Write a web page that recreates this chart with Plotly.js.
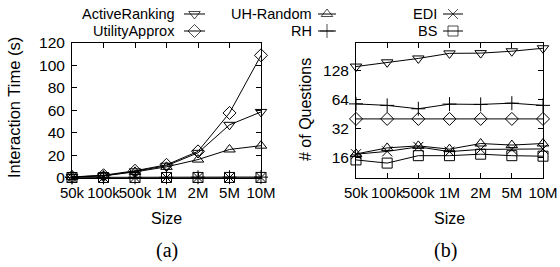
<!DOCTYPE html>
<html>
<head>
<meta charset="utf-8">
<script src="https://cdn.plot.ly/plotly-3.0.1.min.js"></script>
<style>html,body{margin:0;padding:0;background:#fff}#chart{width:560px;height:267px}</style>
</head>
<body>
<div id="chart"></div>
<script>
// ---- data ----
var sizes = ['50k', '100k', '500k', '1M', '2M', '5M', '10M'];

// (a) Interaction Time (s)
var timeActiveRanking = [0.5, 1.5, 5.5, 10.5, 22, 47, 58.5];
var timeUtilityApprox = [0.5, 2, 6, 11.3, 23.3, 57.6, 109];
var timeUHRandom      = [0.5, 1.5, 5, 9.5, 16, 25, 28.4];
var timeRH            = [0.05, 0.1, 0.15, 0.2, 0.25, 0.3, 0.35];
var timeEDI           = [0.01, 0.01, 0.02, 0.02, 0.03, 0.03, 0.04];
var timeBS            = [0.02, 0.02, 0.03, 0.04, 0.05, 0.06, 0.08];

// (b) # of Questions
var qActiveRanking = [140, 155, 170, 192, 193, 202, 217];
var qUtilityApprox = [40, 40, 40, 40, 40, 40, 40];
var qUHRandom      = [17.3, 20, 21, 19.4, 22.2, 21.4, 22.2];
var qRH            = [57.3, 55.3, 51, 57, 56.6, 58.3, 55.3];
var qEDI           = [17.2, 18.4, 20.5, 18.3, 19.3, 19.3, 19.5];
var qBS            = [15, 13.9, 16.6, 16.6, 17.2, 16.6, 16.4];

var seriesNames = ['ActiveRanking', 'UtilityApprox', 'UH-Random', 'RH', 'EDI', 'BS'];
var seriesSymbols = ['triangle-down-open', 'diamond-open', 'triangle-up-open', 'cross-thin-open', 'x-thin-open', 'square-open'];
var timeData = [timeActiveRanking, timeUtilityApprox, timeUHRandom, timeRH, timeEDI, timeBS];
var qData = [qActiveRanking, qUtilityApprox, qUHRandom, qRH, qEDI, qBS];

var FONT = 'Liberation Sans, Arial, sans-serif';
var FS = 15;
var W = 560, H = 267;

var traces = [];
function mk(name, sym, x, y, xa, ya) {
  return {
    type: 'scatter', mode: 'lines+markers', name: name, x: x, y: y,
    xaxis: xa, yaxis: ya, showlegend: false, cliponaxis: false,
    line: {color: '#000', width: 1},
    marker: {symbol: sym, size: 10, color: '#000', line: {color: '#000', width: 1}}
  };
}
for (var i = 0; i < seriesNames.length; i++) {
  traces.push(mk(seriesNames[i], seriesSymbols[i], sizes, timeData[i], 'x', 'y'));
}
for (var i = 0; i < seriesNames.length; i++) {
  traces.push(mk(seriesNames[i], seriesSymbols[i], sizes, qData[i], 'x2', 'y2'));
}

// legend samples (pixel coordinates on overlay axis)
var legendPos = [
  {tx: 176, sx0: 184, sx1: 205, y: 14},
  {tx: 176, sx0: 184, sx1: 205, y: 31},
  {tx: 313, sx0: 318, sx1: 336, y: 14},
  {tx: 313, sx0: 318, sx1: 336, y: 31},
  {tx: 438, sx0: 443, sx1: 463, y: 14},
  {tx: 438, sx0: 443, sx1: 463, y: 31}
];
var annotations = [];
for (var i = 0; i < seriesNames.length; i++) {
  var p = legendPos[i];
  traces.push({
    type: 'scatter', mode: 'lines+markers', x: [p.sx0, (p.sx0 + p.sx1) / 2, p.sx1], y: [p.y, p.y, p.y],
    xaxis: 'x3', yaxis: 'y3', showlegend: false, hoverinfo: 'skip', cliponaxis: false,
    line: {color: '#000', width: 1},
    marker: {symbol: seriesSymbols[i], size: [0, 10, 0], color: '#000', line: {color: '#000', width: 1}}
  });
  annotations.push({xref: 'paper', yref: 'paper', x: p.tx / W, y: 1 - p.y / H, xanchor: 'right', yanchor: 'middle',
    text: seriesNames[i], showarrow: false, borderpad: 0, font: {family: FONT, size: 14.5, color: '#000'}});
}

var plotTop = 43, plotBottom = 177.5;
var ydom = [1 - plotBottom / H, 1 - plotTop / H];

annotations.push({xref: 'paper', yref: 'paper', x: 14 / W, y: 1 - 108 / H, textangle: -90, xanchor: 'center', yanchor: 'middle',
  text: 'Interaction Time (s)', showarrow: false, font: {family: FONT, size: 16.5, color: '#000'}});
annotations.push({xref: 'paper', yref: 'paper', x: 305 / W, y: 1 - 110 / H, textangle: -90, xanchor: 'center', yanchor: 'middle',
  text: '# of Questions', showarrow: false, font: {family: FONT, size: 16, color: '#000'}});
annotations.push({xref: 'paper', yref: 'paper', x: 166.5 / W, y: 1 - 218 / H, xanchor: 'center', yanchor: 'middle',
  text: 'Size', showarrow: false, font: {family: FONT, size: 16, color: '#000'}});
annotations.push({xref: 'paper', yref: 'paper', x: 449.5 / W, y: 1 - 218 / H, xanchor: 'center', yanchor: 'middle',
  text: 'Size', showarrow: false, font: {family: FONT, size: 16, color: '#000'}});
annotations.push({xref: 'paper', yref: 'paper', x: 167 / W, y: 1 - 250 / H, xanchor: 'center', yanchor: 'middle',
  text: '(a)', showarrow: false, font: {family: 'Liberation Serif, DejaVu Serif, serif', size: 20, color: '#000'}});
annotations.push({xref: 'paper', yref: 'paper', x: 445 / W, y: 1 - 250 / H, xanchor: 'center', yanchor: 'middle',
  text: '(b)', showarrow: false, font: {family: 'Liberation Serif, DejaVu Serif, serif', size: 20, color: '#000'}});

var axCommon = {
  showline: true, linecolor: '#000', linewidth: 1, mirror: 'ticks',
  ticks: 'inside', ticklen: 5, tickcolor: '#000', tickwidth: 1,
  showgrid: false, zeroline: false,
  tickfont: {family: FONT, size: FS, color: '#000'}
};
function ax(extra) { return Object.assign({}, axCommon, extra); }

var layout = {
  width: W, height: H,
  margin: {l: 0, r: 0, t: 0, b: 0},
  paper_bgcolor: '#fff', plot_bgcolor: 'rgba(0,0,0,0)',
  showlegend: false,
  xaxis: ax({domain: [72 / W, 261 / W], anchor: 'y', type: 'category', range: [0, 6], tickangle: 0, ticklabelstandoff: 1}),
  yaxis: ax({domain: ydom, anchor: 'x', range: [0, 120], dtick: 20, ticklabelstandoff: 3, tickfont: {family: FONT, size: 15.5, color: '#000'}}),
  xaxis2: ax({domain: [356 / W, 543 / W], anchor: 'y2', type: 'category', range: [0, 6], tickangle: 0, ticklabelstandoff: 1}),
  yaxis2: ax({domain: ydom, anchor: 'x2', type: 'log', range: [Math.log10(9.85), Math.log10(246)],
    tickmode: 'array', tickvals: [16, 32, 64, 128], ticktext: ['16', '32', '64', '128'], ticklabelstandoff: 3,
    tickfont: {family: FONT, size: 15.5, color: '#000'}}),
  xaxis3: {domain: [0, 1], range: [0, W], visible: false, fixedrange: true, anchor: 'y3'},
  yaxis3: {domain: [0, 1], range: [H, 0], visible: false, fixedrange: true, anchor: 'x3'},
  annotations: annotations
};

Plotly.newPlot('chart', traces, layout, {staticPlot: true});
</script>
</body>
</html>
